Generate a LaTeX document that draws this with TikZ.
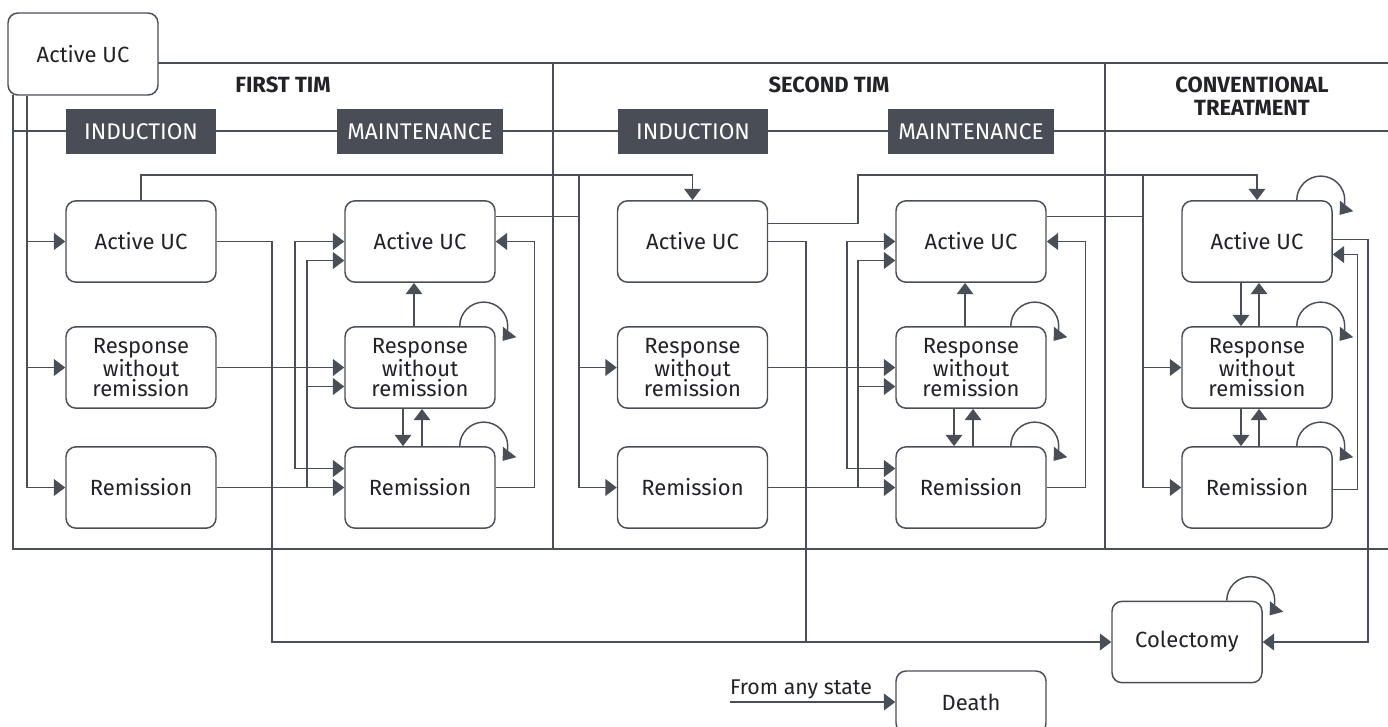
\documentclass[tikz,border=0pt]{standalone}
\usepackage{fontspec}
\setmainfont{Fira Sans}
\usetikzlibrary{arrows.meta,calc}

\definecolor{linegray}{HTML}{4A4F57}
\definecolor{labelgray}{HTML}{494D55}
\definecolor{txtgray}{HTML}{222326}

\begin{document}
\begin{tikzpicture}[x=0.75pt,y=0.75pt,yscale=-1,color=linegray,line width=1.1pt,
  state/.style={draw=linegray,line width=1.1pt,rounded corners=7.5pt,fill=white,
    minimum width=112.5pt,minimum height=61pt,inner sep=0pt,align=center,
    text=txtgray,font=\fontsize{16.5}{15.5}\selectfont},
  phase/.style={fill=labelgray,text=white,minimum height=33.75pt,inner sep=0pt,
    font=\fontsize{17}{18}\selectfont},
  head/.style={text=txtgray,align=center,font=\bfseries\fontsize{16.5}{17}\selectfont},
  arr/.style={-{Triangle[length=8.5pt,width=12.5pt]}}]
\useasboundingbox (0,0) rectangle (1388,726);
\clip (0,0) rectangle (1388,726);

% frame and phase lines
\draw (158,63) -- (1400,63);
\draw (13,95) -- (13,549) -- (1400,549);
\draw (13,131) -- (1400,131);
\draw (553,63) -- (553,549);
\draw (1105,63) -- (1105,549);

% headers
\node[head] (h1) at (283,85) {FIRST TIM};
\node[head] (h2) at (829,85) {SECOND TIM};
\node[head] (h3) at (1252,96) {CONVENTIONAL\\TREATMENT};

\node[phase,minimum width=112.5pt] (p1) at (141,131.5) {INDUCTION};
\node[phase,minimum width=125pt] (p2) at (420,131.5) {MAINTENANCE};
\node[phase,minimum width=112.5pt] (p3) at (693,131.5) {INDUCTION};
\node[phase,minimum width=125pt] (p4) at (971,131.5) {MAINTENANCE};

% states
\node[state,minimum height=61.5pt] (auc) at (83,54) {Active UC};

\node[state] (i1a) at (141,241.5) {Active UC};
\node[state] (i1r) at (141,367.5) {Response\\without\\remission};
\node[state] (i1m) at (141,487.5) {Remission};

\node[state] (i2a) at (420,241.5) {Active UC};
\node[state] (i2r) at (420,367.5) {Response\\without\\remission};
\node[state] (i2m) at (420,487.5) {Remission};

\node[state] (i3a) at (692.5,241.5) {Active UC};
\node[state] (i3r) at (692.5,367.5) {Response\\without\\remission};
\node[state] (i3m) at (692.5,487.5) {Remission};

\node[state] (i4a) at (971,241.5) {Active UC};
\node[state] (i4r) at (971,367.5) {Response\\without\\remission};
\node[state] (i4m) at (971,487.5) {Remission};

\node[state] (cva) at (1257,241.5) {Active UC};
\node[state] (cvr) at (1257,367.5) {Response\\without\\remission};
\node[state] (cvm) at (1257,487.5) {Remission};

\node[state] (col) at (1187,642) {Colectomy};
\node[state,minimum height=46.5pt] (dth) at (971,702) {Death};
\node[text=txtgray,anchor=base,font=\fontsize{16}{15}\selectfont] (fas) at (801,694) {From any state};
\coordinate (fas0) at (730,702);
\draw[arr] (fas0) -- (dth.west);

% bus positions
\coordinate (b0) at (27,0);
\coordinate (b1) at (295,0);
\coordinate (b2) at (307,0);
\coordinate (b4) at (579,0);
\coordinate (b5) at (858,0);
\coordinate (b6) at (847,0);
\coordinate (b8) at (1143,0);
\coordinate (c1) at (272,0);
\coordinate (c3) at (806,0);
\coordinate (c5) at (1368,0);
\coordinate (t1) at (0,175);

% into first induction
\draw[arr] (auc.south -| b0) |- (i1m.west);
\draw[arr] (b0 |- i1a.west) -- (i1a.west);
\draw[arr] (b0 |- i1r.west) -- (i1r.west);

% first induction -> first maintenance
\draw[arr] (i1r.east) -- (i2r.west);
\draw[arr] (b1 |- i1r.east) |- (i2a.west);
\draw[arr] (b1 |- i1r.east) |- ($(i2m.west)+(0,-19)$);
\draw[arr] (i1m.east) -- (i2m.west);
\draw[arr] (b2 |- i1m.east) |- ($(i2a.west)+(0,19)$);
\draw[arr] (b2 |- i1m.east) |- ($(i2r.west)+(0,19)$);

% first maintenance
\draw[arr] ($(i2r.north)+(-6,0)$) -- ($(i2a.south)+(-6,0)$);
\draw[arr] ($(i2r.south)+(-17,0)$) -- ($(i2m.north)+(-17,0)$);
\draw[arr] ($(i2m.north)+(2,0)$) -- ($(i2r.south)+(2,0)$);
\draw[arr] (i2m.east) -- ++(39,0) |- (i2a.east);
\draw[arr] ($(i2r.north east)+(-36,0)$) arc[start angle=180,end angle=398,radius=24];
\draw[arr] ($(i2m.north east)+(-36,0)$) arc[start angle=180,end angle=398,radius=24];

% first TIM failure -> second TIM
\draw[arr] (i1a.north) |- (t1 -| i3a.north) -- (i3a.north);
\draw ($(i2a.east)+(0,-25)$) -| (b4 |- t1);
\draw[arr] (b4 |- t1) |- (i3m.west);
\draw[arr] (b4 |- i3r.west) -- (i3r.west);

% second induction -> second maintenance
\draw[arr] (i3r.east) -- (i4r.west);
\draw[arr] (b6 |- i3r.east) |- (i4a.west);
\draw[arr] (b6 |- i3r.east) |- ($(i4m.west)+(0,-19)$);
\draw[arr] (i3m.east) -- (i4m.west);
\draw[arr] (b5 |- i3m.east) |- ($(i4a.west)+(0,19)$);
\draw[arr] (b5 |- i3m.east) |- ($(i4r.west)+(0,19)$);

% second maintenance
\draw[arr] ($(i4r.north)+(-6,0)$) -- ($(i4a.south)+(-6,0)$);
\draw[arr] ($(i4r.south)+(-17,0)$) -- ($(i4m.north)+(-17,0)$);
\draw[arr] ($(i4m.north)+(2,0)$) -- ($(i4r.south)+(2,0)$);
\draw[arr] (i4m.east) -- ++(39,0) |- (i4a.east);
\draw[arr] ($(i4r.north east)+(-36,0)$) arc[start angle=180,end angle=398,radius=24];
\draw[arr] ($(i4m.north east)+(-36,0)$) arc[start angle=180,end angle=398,radius=24];

% second TIM failure -> conventional
\draw[arr] ($(i3a.east)+(0,-18)$) -| (b5 |- t1) -| (cva.north);
\draw ($(i4a.east)+(0,-25)$) -| (b8 |- t1);
\draw[arr] (b8 |- t1) |- (cvm.west);
\draw[arr] (b8 |- cvr.west) -- (cvr.west);

% conventional treatment
\draw[arr] ($(cva.south)+(-16,0)$) -- ($(cvr.north)+(-16,0)$);
\draw[arr] ($(cvr.north)+(2,0)$) -- ($(cva.south)+(2,0)$);
\draw[arr] ($(cvr.south)+(-16,0)$) -- ($(cvm.north)+(-16,0)$);
\draw[arr] ($(cvm.north)+(2,0)$) -- ($(cvr.south)+(2,0)$);
\draw[arr] ($(cvm.east)+(0,2)$) -- ++(25,0) |- ($(cva.east)+(0,13)$);
\draw[arr] ($(cva.north east)+(-36,0)$) arc[start angle=180,end angle=398,radius=24];
\draw[arr] ($(cvr.north east)+(-36,0)$) arc[start angle=180,end angle=398,radius=24];
\draw[arr] ($(cvm.north east)+(-36,0)$) arc[start angle=180,end angle=398,radius=24];

% colectomy
\draw[arr] (i1a.east) -| (c1 |- col.west) -- (col.west);
\draw (i3a.east) -| (c3 |- col.west);
\draw[arr] ($(cva.east)+(0,-2)$) -| (c5 |- col.east) -- (col.east);
\draw[arr] ($(col.north east)+(-36,0)$) arc[start angle=180,end angle=398,radius=24];

\end{tikzpicture}
\end{document}
